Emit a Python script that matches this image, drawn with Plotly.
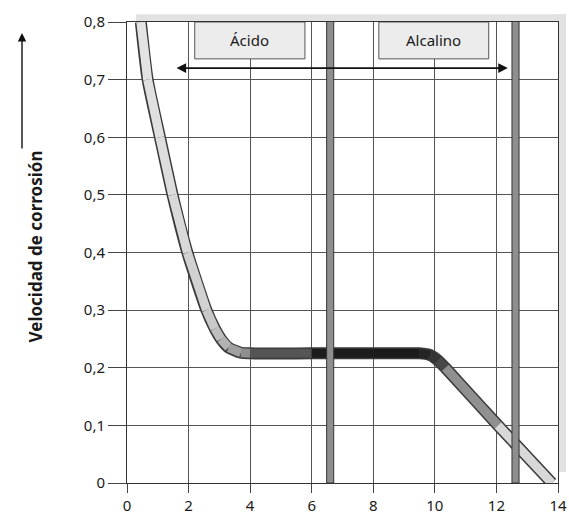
import plotly.graph_objects as go

# curve: corrosion rate vs pH
ph_points = [0.45, 0.67, 1.07, 1.48, 1.96, 2.58, 2.85, 3.05, 3.3, 3.7, 4.0, 6.0, 8.0, 9.5, 9.85, 10.1, 10.34, 12.05, 13.8]
vel_points = [0.8, 0.7, 0.6, 0.5, 0.4, 0.3, 0.268, 0.25, 0.235, 0.226, 0.225, 0.225, 0.225, 0.225, 0.222, 0.213, 0.2, 0.1, 0.0]

# vertical markers at pH
bar_ph = [6.6, 12.62]

# zone boxes
zone_labels = ['Ácido', 'Alcalino']
zone_from = [2.2, 8.18]
zone_to = [5.78, 11.75]
zone_bottom = 0.736

# double arrow
arrow_y = 0.72
arrow_from = 1.56
arrow_to = 12.37

x_ticks = [0, 2, 4, 6, 8, 10, 12, 14]
y_ticks = [0, 0.1, 0.2, 0.3, 0.4, 0.5, 0.6, 0.7, 0.8]
y_ticktext = ['0', '0,1', '0,2', '0,3', '0,4', '0,5', '0,6', '0,7', '0,8']

# grey level of the band along the pH axis (style)
grey_stops = [(0.0, 232), (2.0, 214), (2.8, 200), (3.3, 170), (4.0, 135), (5.0, 85), (6.0, 50), (7.0, 28),
              (9.5, 26), (10.1, 60), (10.35, 85), (12.0, 200), (14.0, 235)]


def grey_at(x):
    for (x0, g0), (x1, g1) in zip(grey_stops[:-1], grey_stops[1:]):
        if x0 <= x <= x1:
            g = g0 + (g1 - g0) * (x - x0) / (x1 - x0)
            g = int(round(g))
            return 'rgb(%d,%d,%d)' % (g, g, g)
    return 'rgb(200,200,200)'


font = 'Noto Sans'
traces = []

# outline of the band
traces.append(go.Scatter(x=ph_points, y=vel_points, mode='lines',
                         line=dict(color='#3a3a3a', width=12, shape='spline', smoothing=0.6),
                         hoverinfo='skip', showlegend=False))

# filled band, piece by piece for the shading
for i in range(len(ph_points) - 1):
    mid = (ph_points[i] + ph_points[i + 1]) / 2
    traces.append(go.Scatter(x=ph_points[i:i + 2], y=vel_points[i:i + 2], mode='lines',
                             line=dict(color=grey_at(mid), width=9),
                             hoverinfo='skip', showlegend=False))

shapes = []
# hatched frame strips
shapes.append(dict(type='rect', xref='paper', yref='paper', x0=0.021, x1=1.0186, y0=1.002, y1=1.017,
                   fillcolor='#e2e2e2', line=dict(width=0), layer='below'))
shapes.append(dict(type='rect', xref='paper', yref='paper', x0=1.001, x1=1.0186, y0=0.024, y1=1.017,
                   fillcolor='#e2e2e2', line=dict(width=0), layer='below'))

for p in bar_ph:
    shapes.append(dict(type='rect', xref='x', yref='y', x0=p - 0.115, x1=p + 0.115, y0=0, y1=0.803,
                       fillcolor='#8e8e8e', line=dict(color='#333333', width=1)))

annotations = []
for lab, a, b in zip(zone_labels, zone_from, zone_to):
    shapes.append(dict(type='rect', xref='x', yref='y', x0=a, x1=b, y0=zone_bottom, y1=0.8,
                       fillcolor='#ececec', line=dict(color='#555555', width=1)))
    annotations.append(dict(x=(a + b) / 2, y=(zone_bottom + 0.8) / 2, xref='x', yref='y', text=lab,
                            showarrow=False, font=dict(family=font, size=15, color='#1a1a1a')))

annotations.append(dict(x=arrow_to, y=arrow_y, ax=arrow_from, ay=arrow_y, xref='x', yref='y',
                        axref='x', ayref='y', text='', showarrow=True, arrowside='end+start',
                        arrowhead=2, arrowsize=1.2, arrowwidth=1.6, arrowcolor='#111111'))

# y title with long arrow
annotations.append(dict(x=-0.2436, y=0.512, xref='paper', yref='paper', text='<b>Velocidad de corrosión</b>',
                        textangle=-90, showarrow=False, font=dict(family=font, size=17, color='#1a1a1a')))
annotations.append(dict(x=-0.2436, y=0.976, xref='paper', yref='paper', ax=0, ay=117, text='',
                        showarrow=True, arrowhead=2, arrowsize=1.2, arrowwidth=1.4, arrowcolor='#111111'))

layout = go.Layout(
    width=569,
    height=516,
    margin=dict(l=127, r=11, t=22, b=33, autoexpand=False),
    paper_bgcolor='white',
    plot_bgcolor='white',
    showlegend=False,
    xaxis=dict(range=[0, 14], tickvals=x_ticks, ticktext=[str(v) for v in x_ticks], automargin=False,
               showgrid=True, gridcolor='#555555', gridwidth=1, zeroline=False,
               showline=True, linecolor='#333333', linewidth=1, mirror=True,
               ticks='outside', ticklen=9, tickcolor='#444444',
               tickfont=dict(family=font, size=15, color='#1a1a1a')),
    yaxis=dict(range=[0, 0.8], tickvals=y_ticks, ticktext=y_ticktext, automargin=False,
               showgrid=True, gridcolor='#555555', gridwidth=1, zeroline=False,
               showline=True, linecolor='#333333', linewidth=1, mirror=True,
               ticks='outside', ticklen=18, tickcolor='#444444',
               tickfont=dict(family=font, size=15, color='#1a1a1a')),
    shapes=shapes,
    annotations=annotations,
)

fig = go.Figure(data=traces, layout=layout)
# drop the default page margin so the 569x516 figure fills the window
fig.write_html('out.html', config={'displayModeBar': False},
               post_script="document.body.style.margin='0';document.body.style.overflow='hidden';")
